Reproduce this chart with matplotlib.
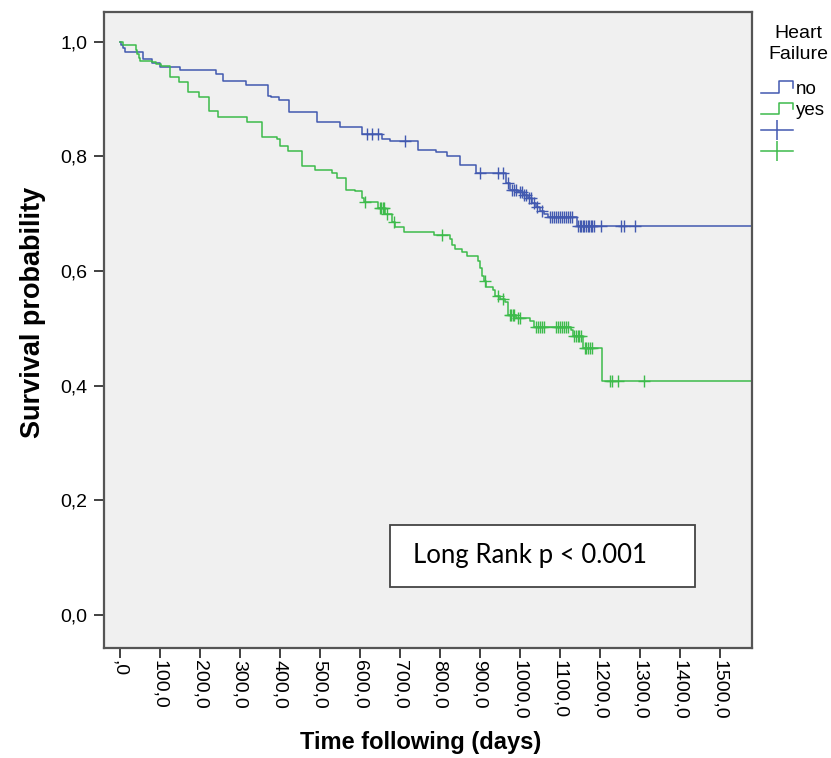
import numpy as np
import matplotlib
matplotlib.use("Agg")
import matplotlib.pyplot as plt
from matplotlib.lines import Line2D
from matplotlib.patches import Rectangle
from matplotlib.legend_handler import HandlerBase

# ---------------- data ----------------
group_labels = ["no", "yes"]
legend_title = "Heart\nFailure"

blue_times = [0, 4, 9, 14, 59, 80, 100, 150, 242, 258, 316, 370, 378, 398, 423,
              494, 552, 606, 656, 677, 747, 790, 818, 851, 892, 966, 976, 995,
              1009, 1020, 1030, 1040, 1051, 1060, 1070, 1143, 1600]
blue_surv = [1.0, 0.995, 0.99, 0.983, 0.970, 0.963, 0.956, 0.950, 0.944, 0.931,
             0.924, 0.906, 0.903, 0.898, 0.877, 0.860, 0.851, 0.839, 0.831, 0.826,
             0.812, 0.807, 0.800, 0.785, 0.771, 0.753, 0.742, 0.737, 0.733, 0.727,
             0.719, 0.712, 0.705, 0.700, 0.695, 0.678, 0.678]
blue_censored = [618, 631, 647, 714, 901, 946, 959, 970, 980, 985, 990, 1000, 1005,
                 1012, 1016, 1024, 1028, 1035, 1044, 1055, 1075, 1080, 1085, 1090,
                 1095, 1100, 1105, 1110, 1115, 1120, 1125, 1130, 1146, 1150, 1154,
                 1158, 1162, 1166, 1170, 1174, 1178, 1182, 1186, 1204, 1253, 1262,
                 1289]

green_times = [0, 8, 40, 44, 48, 52, 82, 92, 104, 125, 149, 170, 199, 224, 247,
               318, 357, 393, 401, 422, 455, 489, 530, 543, 566, 589, 605, 612,
               645, 664, 681, 689, 710, 785, 826, 830, 839, 855, 868, 897, 900,
               905, 910, 917, 934, 938, 951, 963, 972, 990, 1026, 1035, 1128,
               1134, 1158, 1205, 1600]
green_surv = [1.0, 0.995, 0.985, 0.978, 0.972, 0.967, 0.964, 0.961, 0.958, 0.938,
              0.930, 0.912, 0.903, 0.880, 0.869, 0.860, 0.834, 0.830, 0.818, 0.809,
              0.784, 0.777, 0.771, 0.762, 0.742, 0.739, 0.727, 0.720, 0.710, 0.700,
              0.685, 0.677, 0.668, 0.662, 0.656, 0.645, 0.639, 0.634, 0.627, 0.618,
              0.605, 0.592, 0.582, 0.572, 0.566, 0.557, 0.551, 0.546, 0.524, 0.518,
              0.512, 0.503, 0.497, 0.486, 0.466, 0.408, 0.408]
green_censored = [614, 650, 654, 658, 662, 668, 686, 805, 913, 946, 959, 975, 979,
                  983, 987, 995, 1000, 1040, 1045, 1050, 1055, 1060, 1090, 1095,
                  1100, 1105, 1110, 1115, 1120, 1137, 1141, 1145, 1149, 1153, 1163,
                  1167, 1171, 1175, 1180, 1227, 1232, 1247, 1310]

xtick_values = list(range(0, 1501, 100))
xtick_labels = [",0", "100,0", "200,0", "300,0", "400,0", "500,0", "600,0", "700,0",
                "800,0", "900,0", "1000,0", "1100,0", "1200,0", "1300,0", "1400,0",
                "1500,0"]
ytick_values = [0.0, 0.2, 0.4, 0.6, 0.8, 1.0]
ytick_labels = ["0,0", "0,2", "0,4", "0,6", "0,8", "1,0"]

annotation = "Long Rank p < 0.001"
xlabel = "Time following (days)"
ylabel = "Survival probability"

# ---------------- style ----------------
BLUE = "#4259B0"
GREEN = "#3DBB4B"
plt.rcParams["font.family"] = ["Liberation Sans", "DejaVu Sans"]

W, H = 831, 758
fig = plt.figure(figsize=(W / 100, H / 100), dpi=100)
fig.patch.set_facecolor("white")
ax = fig.add_axes([104 / W, 1 - 648 / H, 648 / W, 636 / H])
ax.set_facecolor("#F0F0F0")


def km_at(times, surv, t):
    idx = np.searchsorted(np.asarray(times), np.asarray(t), side="right") - 1
    return np.asarray(surv)[idx]


blue_line, = ax.step(blue_times, blue_surv, where="post", color=BLUE, lw=1.1)
green_line, = ax.step(green_times, green_surv, where="post", color=GREEN, lw=1.1)
ax.plot(blue_censored, km_at(blue_times, blue_surv, blue_censored), ls="none",
        marker="+", ms=9, mew=1.0, color=BLUE)
ax.plot(green_censored, km_at(green_times, green_surv, green_censored), ls="none",
        marker="+", ms=9, mew=1.0, color=GREEN)

ax.set_xlim(-38.75, 1581)
ax.set_ylim(-0.058, 1.052)
ax.set_xticks(xtick_values)
ax.set_xticklabels(xtick_labels, rotation=270, fontsize=14)
ax.set_yticks(ytick_values)
ax.set_yticklabels(ytick_labels, fontsize=14)
ax.tick_params(axis="both", direction="out", length=7, width=1.3, color="#333333",
               pad=2)
ax.tick_params(axis="y", pad=5)
for sp in ax.spines.values():
    sp.set_color("#555555")
    sp.set_linewidth(1.6)

ax.set_xlabel(xlabel, fontsize=17, fontweight="bold")
ax.xaxis.set_label_coords(0.488, -0.131)
ax.set_ylabel(ylabel, fontsize=19.5, fontweight="bold")
ax.yaxis.set_label_coords(-0.09, 0.527)

# annotation box
ax.add_patch(Rectangle((0.441, 0.0959), 0.471, 0.0975, transform=ax.transAxes,
                       facecolor="white", edgecolor="#444444", lw=1.3, zorder=5))
ax.text(0.477, 0.145, annotation, transform=ax.transAxes, fontsize=18.5,
        family=["Lato", "DejaVu Sans"], va="center", ha="left", zorder=6)


# legend
class StepHandler(HandlerBase):
    def create_artists(self, legend, orig_handle, xdescent, ydescent, width,
                       height, fontsize, trans):
        xs = np.array([0, 0.55, 0.55, 1.0, 1.0]) * width - xdescent
        ys = np.array([0.1, 0.1, 0.9, 0.9, 0.45]) * height - ydescent
        ln = Line2D(xs, ys, color=orig_handle.get_color(),
                    lw=orig_handle.get_linewidth())
        ln.set_transform(trans)
        return [ln]


fig.text(798 / W, 1 - 44 / H, legend_title, ha="center", va="center",
         fontsize=14, linespacing=1.3, multialignment="center")

cb = Line2D([], [], color=BLUE, marker="|", ms=14, mew=1.1, lw=1.1)
cg = Line2D([], [], color=GREEN, marker="|", ms=14, mew=1.1, lw=1.1)
leg = fig.legend([blue_line, green_line, cb, cg], group_labels + ["", ""],
                 loc="upper left", bbox_to_anchor=(761 / W, 1 - 80 / H),
                 frameon=False, borderaxespad=0,
                 handler_map={blue_line: StepHandler(), green_line: StepHandler()},
                 handlelength=1.7, handleheight=0.8, fontsize=13.5,
                 numpoints=1, handletextpad=0.15, labelspacing=0.2,
                 borderpad=0.0)

fig.savefig("out.png", dpi=100)
